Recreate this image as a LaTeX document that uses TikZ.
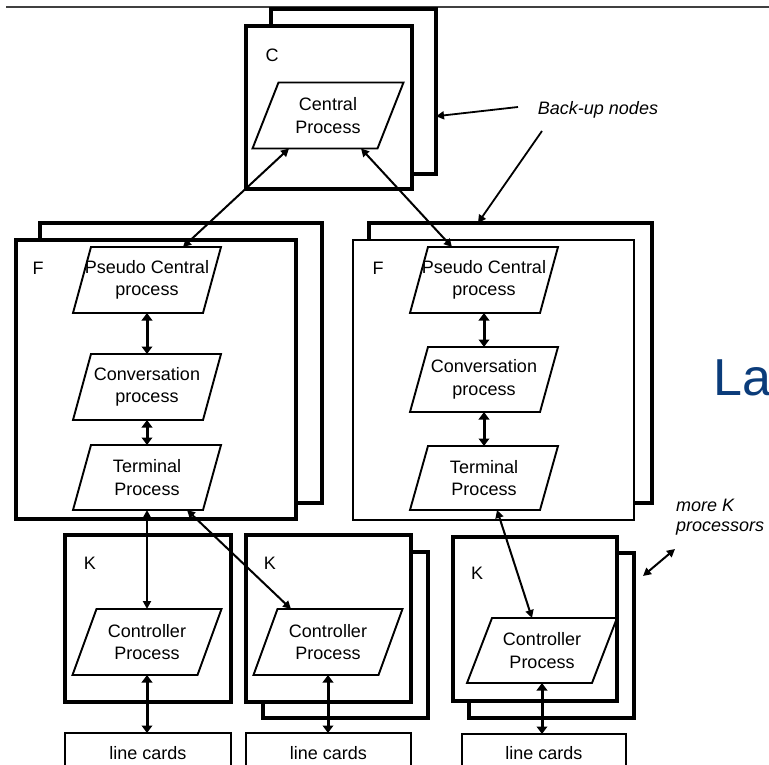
\documentclass[tikz,border=0pt]{standalone}
\usepackage{fontspec}
\setmainfont{Liberation Sans}
\usetikzlibrary{arrows.meta,calc}
\definecolor{titleblue}{HTML}{0B3C7A}
% slanted outline around a process node: #1 node name, #2 half of the slant
\newcommand\paraline[2]{%
  \draw[outline] ([xshift=#2]#1.north west) -- ([xshift=#2]#1.north east)
    -- ([xshift=-#2]#1.south east) -- ([xshift=-#2]#1.south west) -- cycle;}
\begin{document}
\begin{tikzpicture}[x=1pt,y=-1pt,
  font=\fontsize{18}{22.5}\selectfont,
  box/.style={draw, fill=white, line width=3.3pt, inner sep=0pt, outer sep=0pt, anchor=north west},
  thinbox/.style={box, line width=1.8pt},
  cardbox/.style={box, line width=2.4pt},
  proc/.style={inner sep=0pt, outer sep=0pt, align=center, minimum width=125pt, minimum height=66pt},
  procF/.style={proc, minimum width=130pt},
  outline/.style={draw, line width=1.9pt, line join=miter},
  tag/.style={inner sep=0pt},
  link/.style={line width=2pt, {Triangle[length=8pt,width=8pt]}-{Triangle[length=8pt,width=8pt]}},
  bus/.style={line width=3pt, {Triangle[length=7.5pt,width=10.5pt]}-{Triangle[length=7.5pt,width=10.5pt]}},
  pointer/.style={line width=1.8pt, -{Triangle[length=8pt,width=8pt]}},
  note/.style={inner sep=0pt, font=\fontsize{18}{20}\selectfont\itshape, align=left}
]
\useasboundingbox (0,0) rectangle (769,765);

% rule across the top
\draw[line width=1.6pt, black!75] (6,7) -- (769,7);

% ---- central node C with its back-up
\node[box, minimum width=165pt, minimum height=165pt] (cB) at (271,9) {};
\node[box, minimum width=166pt, minimum height=163pt] (cF) at (246,26) {};
\node[tag] (cL) at (272,55) {C};
\node[proc] (cp) at (328,115.5) {Central\\Process}; \paraline{cp}{13pt}

% ---- left F node
\node[box, minimum width=282pt, minimum height=280pt] (lFb) at (40,223) {};
\node[box, minimum width=280pt, minimum height=279pt] (lFf) at (16,240) {};
\node[tag] (lFL) at (38,268) {F};
\node[procF] (lp1) at (147,280) {Pseudo Central\\process}; \paraline{lp1}{9pt}
\node[procF] (lp2) at (147,387) {Conversation\\process}; \paraline{lp2}{9pt}
\node[procF, minimum height=65pt] (lp3) at (147,477.5) {Terminal\\Process}; \paraline{lp3}{9pt}

% ---- right F node
\node[box, minimum width=283pt, minimum height=280pt] (rFb) at (369,223) {};
\node[thinbox, minimum width=281pt, minimum height=280pt] (rFf) at (353,240) {};
\node[tag] (rFL) at (378,268) {F};
\node[procF] (rp1) at (484,280) {Pseudo Central\\process}; \paraline{rp1}{9pt}
\node[procF, minimum height=65pt] (rp2) at (484,379.5) {Conversation\\process}; \paraline{rp2}{9pt}
\node[procF, minimum height=64pt] (rp3) at (484,478) {Terminal\\Process}; \paraline{rp3}{9pt}

% ---- K nodes
\node[box, minimum width=166pt, minimum height=167pt] (k1) at (65,535) {};
\node[tag] (k1L) at (90,563) {K};
\node[proc] (k1c) at (147,642) {Controller\\Process}; \paraline{k1c}{12pt}

\node[box, minimum width=165pt, minimum height=166pt] (k2b) at (263,552) {};
\node[box, minimum width=165pt, minimum height=167pt] (k2) at (246,535) {};
\node[tag] (k2L) at (270,563) {K};
\node[proc] (k2c) at (328,642) {Controller\\Process}; \paraline{k2c}{12pt}

\node[box, minimum width=165pt, minimum height=165pt] (k3b) at (469,553) {};
\node[box, minimum width=164pt, minimum height=164pt] (k3) at (453,537) {};
\node[tag] (k3L) at (477,573) {K};
\node[proc, minimum height=65pt] (k3c) at (542,650.5) {Controller\\Process}; \paraline{k3c}{12.5pt}

% ---- line cards
\node[cardbox, minimum width=166pt, minimum height=40pt] (lc1) at (65,733) {line cards};
\node[cardbox, minimum width=165pt, minimum height=40pt] (lc2) at (246,733) {line cards};
\node[cardbox, minimum width=164pt, minimum height=38pt] (lc3) at (462,734) {line cards};

% ---- annotations
\node[note] (bk) at (598,110) {Back-up nodes};
\coordinate (bkA) at (518,107);
\coordinate (bkB) at (542,131);
\node[note, anchor=west] (mk) at (676,517) {more K\\processors};
\coordinate (mkA) at (643,576);
\coordinate (mkB) at (675,549);
\node[anchor=base west, inner sep=0pt, text=titleblue, font=\fontsize{52}{52}\selectfont] (la) at (713,395) {La};

% ---- connectors
\draw[pointer] (bkA) -- ($(cB.north east)!0.65!(cB.south east)$);
\draw[pointer] (bkB) -- ($(rFb.north west)!0.385!(rFb.north east)$);
\draw[link] (mkA) -- (mkB);

\draw[link] ([xshift=-39pt]cp.south) -- ([xshift=36pt]lp1.north);
\draw[link] ([xshift=33pt]cp.south) -- ([xshift=-32pt]rp1.north);

\draw[bus] (lp1.south) -- (lp2.north);
\draw[bus] (lp2.south) -- (lp3.north);
\draw[bus] (rp1.south) -- (rp2.north);
\draw[bus] (rp2.south) -- (rp3.north);

\draw[link] (lp3.south) -- (k1c.north);
\draw[link] ([xshift=40pt]lp3.south) -- ([xshift=-37pt]k2c.north);
\draw[link] ([xshift=13pt]rp3.south) -- ([xshift=-10pt]k3c.north);

\draw[bus] (k1c.south) -- (k1c.south |- lc1.north);
\draw[bus] (k2c.south) -- (k2c.south |- lc2.north);
\draw[bus] (k3c.south) -- (k3c.south |- lc3.north);
\end{tikzpicture}
\end{document}
